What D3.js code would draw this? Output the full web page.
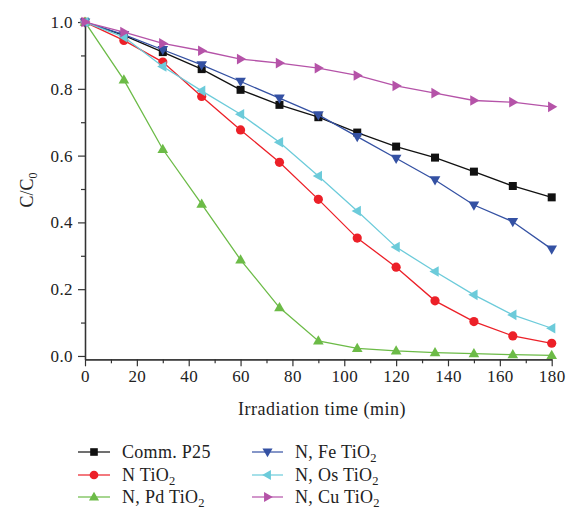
<!DOCTYPE html>
<html><head><meta charset="utf-8">
<script src="https://cdn.jsdelivr.net/npm/d3@7"></script>
<style>
html,body{margin:0;padding:0;background:#fff;}
text{font-family:"Liberation Serif","Times New Roman",serif;fill:#222;}
</style></head>
<body>
<svg id="chart" width="567" height="511"></svg>
<script>
const times = [0,15,30,45,60,75,90,105,120,135,150,165,180];
const p25  = [1.0,0.960,0.910,0.859,0.797,0.752,0.715,0.669,0.627,0.594,0.552,0.509,0.475];
const nTi  = [1.0,0.945,0.880,0.777,0.677,0.580,0.469,0.353,0.266,0.165,0.103,0.060,0.038];
const pdTi = [1.0,0.827,0.619,0.455,0.288,0.145,0.045,0.023,0.015,0.010,0.007,0.004,0.002];
const feTi = [1.0,0.962,0.917,0.872,0.822,0.772,0.722,0.657,0.592,0.527,0.452,0.402,0.320];
const osTi = [1.0,0.955,0.867,0.794,0.724,0.640,0.539,0.434,0.326,0.253,0.183,0.123,0.083];
const cuTi = [1.0,0.970,0.936,0.914,0.889,0.877,0.862,0.840,0.809,0.787,0.765,0.760,0.746];
const seriesNames = ["Comm. P25","N TiO2","N, Pd TiO2","N, Fe TiO2","N, Os TiO2","N, Cu TiO2"];
const xTicks = [0,20,40,60,80,100,120,140,160,180];
const yTicks = [0.0,0.2,0.4,0.6,0.8,1.0];

const series = [
  {name:seriesNames[0], vals:p25,  color:"#111111", sym:"square"},
  {name:seriesNames[1], vals:nTi,  color:"#ec2028", sym:"circle"},
  {name:seriesNames[2], vals:pdTi, color:"#6cbb47", sym:"up"},
  {name:seriesNames[3], vals:feTi, color:"#3451a3", sym:"down"},
  {name:seriesNames[4], vals:osTi, color:"#6ccbda", sym:"left"},
  {name:seriesNames[5], vals:cuTi, color:"#b553a8", sym:"right"}
];

const svg = d3.select("#chart");
const x = d3.scaleLinear().domain([0,180]).range([85,551.7]);
const y = d3.scaleLinear().domain([-0.01,1.01]).range([359.3,18.7]);

// axes
const xAxis = d3.axisBottom(x).tickValues(xTicks).tickSize(7).tickSizeOuter(0).tickPadding(4).tickFormat(d3.format("d"));
const xMinor = d3.axisBottom(x).tickValues(d3.range(10,180,20)).tickSize(4).tickSizeOuter(0).tickFormat("");
const yAxis = d3.axisLeft(y).tickValues(yTicks).tickSize(7).tickSizeOuter(0).tickPadding(5).tickFormat(d3.format(".1f"));
const yMinor = d3.axisLeft(y).tickValues(d3.range(0.1,1.0,0.2)).tickSize(4).tickSizeOuter(0).tickFormat("");

function styleAxis(g){
  g.attr("font-family",null);
  g.selectAll("path.domain").attr("stroke","#333").attr("stroke-width",1.3);
  g.selectAll("line").attr("stroke","#333").attr("stroke-width",1.2);
  g.selectAll("text").style("font-family","'Liberation Serif',serif").style("font-size","17px").attr("fill","#222").style("letter-spacing","0.4px");
}
svg.append("g").attr("transform",`translate(0,${y(-0.01)})`).call(xMinor).call(styleAxis);
svg.append("g").attr("transform",`translate(0,${y(-0.01)})`).call(xAxis).call(styleAxis);
svg.append("g").attr("transform",`translate(${x(0)},0)`).call(yMinor).call(styleAxis);
svg.append("g").attr("transform",`translate(${x(0)},0)`).call(yAxis).call(styleAxis);

// axis titles
svg.append("text").attr("x",322).attr("y",415).attr("text-anchor","middle")
  .style("font-size","18px").style("letter-spacing","0.5px").text("Irradiation time (min)");
const yl = svg.append("text").attr("transform","translate(33,190) rotate(-90)").attr("text-anchor","middle")
  .style("font-size","18px");
yl.append("tspan").text("C/C");
yl.append("tspan").attr("dy",4).style("font-size","12px").text("0");

// markers
function drawMarker(g, sym, cx, cy, color, s){
  s = s||1;
  if(sym==="square"){
    g.append("rect").attr("x",cx-4*s).attr("y",cy-4*s).attr("width",8*s).attr("height",8*s).attr("fill",color);
  } else if(sym==="circle"){
    g.append("circle").attr("cx",cx).attr("cy",cy).attr("r",4.6*s).attr("fill",color);
  } else {
    const r = 5.6*s;
    let pts;
    if(sym==="up") pts=[[0,-r],[r*0.95,r*0.65],[-r*0.95,r*0.65]];
    if(sym==="down") pts=[[0,r],[r*0.95,-r*0.65],[-r*0.95,-r*0.65]];
    if(sym==="left") pts=[[-r,0],[r*0.65,-r*0.95],[r*0.65,r*0.95]];
    if(sym==="right") pts=[[r,0],[-r*0.65,-r*0.95],[-r*0.65,r*0.95]];
    g.append("polygon").attr("points",pts.map(p=>[cx+p[0],cy+p[1]].join(",")).join(" ")).attr("fill",color);
  }
}

const line = d3.line().x((d,i)=>x(times[i])).y(d=>y(d));
series.forEach(s=>{
  const g = svg.append("g");
  g.append("path").attr("d",line(s.vals)).attr("fill","none").attr("stroke",s.color).attr("stroke-width",1.3);
  s.vals.forEach((v,i)=>drawMarker(g,s.sym,x(times[i]),y(v),s.color));
});

// legend
const legCols = [{lx1:78,lx2:110,tx:122},{lx1:252,lx2:283,tx:295}];
const legRows = [452,475,497];
series.forEach((s,i)=>{
  const c = legCols[Math.floor(i/3)], r = legRows[i%3];
  const g = svg.append("g");
  g.append("line").attr("x1",c.lx1).attr("x2",c.lx2).attr("y1",r).attr("y2",r).attr("stroke",s.color).attr("stroke-width",1.2);
  drawMarker(g,s.sym,(c.lx1+c.lx2)/2,r,s.color,0.95);
  const t = g.append("text").attr("x",c.tx).attr("y",r+6).style("font-size","18px").style("letter-spacing","0.3px");
  const m = s.name.match(/^(.*TiO)2$/);
  if(m){
    t.append("tspan").text(m[1]);
    t.append("tspan").attr("dy",3.5).style("font-size","12.5px").text("2");
  } else t.text(s.name);
});
</script>
</body></html>
